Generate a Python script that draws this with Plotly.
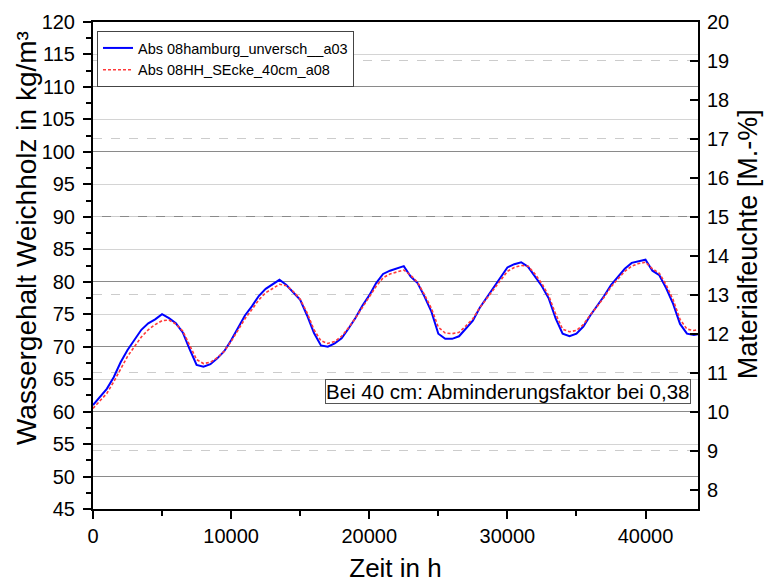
import plotly.graph_objects as go

# time in hours
time_h = [0, 500, 1000, 1500, 2000, 2500, 3000, 3500, 4000, 4500, 5000, 5500, 6000, 6500, 7000,
          7500, 8000, 8500, 9000, 9500, 10000, 10500, 11000, 11500, 12000, 12500, 13000, 13500,
          14000, 14500, 15000, 15500, 16000, 16500, 17000, 17500, 18000, 18500, 19000, 19500,
          20000, 20500, 21000, 21500, 22000, 22500, 23000, 23500, 24000, 24500, 25000, 25500,
          26000, 26500, 27000, 27500, 28000, 28500, 29000, 29500, 30000, 30500, 31000, 31500,
          32000, 32500, 33000, 33500, 34000, 34500, 35000, 35500, 36000, 36500, 37000, 37500,
          38000, 38500, 39000, 39500, 40000, 40500, 41000, 41500, 42000, 42500, 43000, 43500, 43800]

blue_a03 = [61.0, 62.2, 63.5, 65.3, 67.6, 69.5, 71.0, 72.6, 73.6, 74.2, 75.0, 74.4, 73.6, 72.2, 69.6,
            67.2, 66.9, 67.3, 68.2, 69.3, 71.0, 73.0, 74.8, 76.2, 77.8, 78.9, 79.6, 80.3,
            79.5, 78.3, 77.2, 74.8, 72.1, 70.2, 70.0, 70.5, 71.3, 72.8, 74.4, 76.3,
            77.9, 79.8, 81.2, 81.7, 82.0, 82.4, 80.8, 79.8, 77.7, 75.4, 72.0, 71.2,
            71.2, 71.6, 72.8, 74.0, 76.0, 77.6, 79.0, 80.6, 82.2, 82.7, 83.0, 82.3,
            80.8, 79.3, 77.4, 74.3, 72.0, 71.6, 72.0, 73.1, 74.8, 76.3, 77.8, 79.5,
            80.8, 82.0, 82.9, 83.2, 83.4, 81.7, 81.0, 79.0, 76.6, 73.5, 72.0, 71.8, 71.9]

red_a08 = [60.5, 61.6, 62.8, 64.6, 66.6, 68.5, 70.0, 71.5, 72.6, 73.4, 74.0, 74.1, 73.5, 72.4, 70.2,
           68.0, 67.4, 67.6, 68.3, 69.3, 70.8, 72.6, 74.3, 75.7, 77.2, 78.3, 79.0, 79.6,
           79.4, 78.5, 77.3, 75.2, 72.6, 70.9, 70.5, 70.8, 71.6, 72.9, 74.4, 76.1,
           77.6, 79.3, 80.6, 81.2, 81.5, 81.8, 81.0, 79.9, 78.0, 75.9, 73.0, 72.1,
           72.0, 72.2, 73.2, 74.3, 76.0, 77.4, 78.7, 80.1, 81.6, 82.2, 82.5, 82.4,
           81.2, 79.7, 77.8, 75.0, 72.7, 72.3, 72.5, 73.4, 74.9, 76.2, 77.6, 79.2,
           80.4, 81.6, 82.4, 82.8, 83.0, 82.0, 81.3, 79.5, 77.2, 74.2, 72.7, 72.5, 72.6]

name_blue = "Abs 08hamburg_unversch__a03"
name_red = "Abs 08HH_SEcke_40cm_a08"
note_text = "Bei 40 cm: Abminderungsfaktor bei 0,38"
x_title = "Zeit in h"
y_left_title = "Wassergehalt Weichholz in kg/m³"
y_right_title = "Materialfeuchte [M.-%]"

left_range = [45, 120]
right_range = [left_range[0] / 6, left_range[1] / 6]
x_range = [0, 43800]

FONT = "Liberation Sans, Arial, sans-serif"

fig = go.Figure()
fig.add_trace(go.Scatter(x=time_h, y=blue_a03, name=name_blue, mode="lines",
                         line=dict(color="#0000ff", width=2)))
fig.add_trace(go.Scatter(x=time_h, y=red_a08, name=name_red, mode="lines",
                         line=dict(color="#ff3a3a", width=1.6, dash="3px,2px")))
# helper empty traces so overlay axes are drawn
fig.add_trace(go.Scatter(x=[], y=[], yaxis="y3", showlegend=False, hoverinfo="skip"))
fig.add_trace(go.Scatter(x=[], y=[], yaxis="y4", showlegend=False, hoverinfo="skip"))
fig.add_trace(go.Scatter(x=[], y=[], yaxis="y2", showlegend=False, hoverinfo="skip"))

fig.update_layout(
    width=764, height=583,
    margin=dict(l=93, r=66, t=22, b=74, autoexpand=False),
    paper_bgcolor="white", plot_bgcolor="white",
    font=dict(family=FONT, color="black", size=20),
    showlegend=True,
    legend=dict(x=0.0066, y=0.9815, xanchor="left", yanchor="top",
                bgcolor="white", bordercolor="#444444", borderwidth=1,
                font=dict(size=14.5, family=FONT), tracegroupgap=0,
                itemwidth=30),
    xaxis=dict(range=x_range, showgrid=False, zeroline=False, automargin=False,
               showline=True, linecolor="black", linewidth=2, mirror=True,
               ticks="outside", ticklen=8, tickwidth=2, tickcolor="black",
               dtick=10000, tick0=0, tickformat="d",
               minor=dict(dtick=5000, ticks="outside", ticklen=5, tickwidth=2, tickcolor="black"),
               tickfont=dict(size=20),
               title=dict(text=x_title, font=dict(size=26), standoff=17)),
    yaxis=dict(range=left_range, showgrid=True, gridcolor="#d4d4d4", gridwidth=1,
               zeroline=False, showline=True, linecolor="black", linewidth=2, automargin=False,
               ticks="outside", ticklen=8, tickwidth=2, tickcolor="black",
               dtick=5, tick0=0, ticklabelstandoff=4,
               minor=dict(dtick=2.5, ticks="outside", ticklen=5, tickwidth=2, tickcolor="black", showgrid=False),
               tickfont=dict(size=20)),
    yaxis3=dict(range=left_range, overlaying="y", side="left", anchor="x", automargin=False,
                showgrid=True, gridcolor="#8a8a8a", gridwidth=1, dtick=10, tick0=0,
                showticklabels=False, ticks="", showline=False, zeroline=False),
    yaxis4=dict(range=right_range, overlaying="y", side="right", anchor="x", automargin=False,
                showgrid=True, gridcolor="#cccccc", gridwidth=1, griddash="dash",
                dtick=2, tick0=1, showticklabels=False, ticks="", showline=False, zeroline=False),
    yaxis2=dict(range=right_range, overlaying="y", side="right", anchor="x", automargin=False,
                showgrid=False, zeroline=False, showline=True, linecolor="black", linewidth=2,
                ticks="inside", ticklen=8, tickwidth=2, tickcolor="black",
                dtick=1, tick0=0, tickfont=dict(size=20), ticklabelstandoff=3),
)

# y-axis titles as rotated text
fig.add_annotation(xref="paper", yref="paper", x=-0.109, y=0.5565,
                   xanchor="center", yanchor="middle", showarrow=False, textangle=-90,
                   text=y_left_title, font=dict(size=28, family=FONT))
fig.add_annotation(xref="paper", yref="paper", x=1.083, y=0.544,
                   xanchor="center", yanchor="middle", showarrow=False, textangle=-90,
                   text=y_right_title, font=dict(size=27, family=FONT))

fig.add_annotation(xref="paper", yref="paper", x=0.988, y=0.242,
                   xanchor="right", yanchor="middle", showarrow=False,
                   text=note_text, font=dict(size=20.5, family=FONT),
                   bgcolor="white", bordercolor="#555555", borderwidth=1, borderpad=0)

fig.write_html("out.html")
